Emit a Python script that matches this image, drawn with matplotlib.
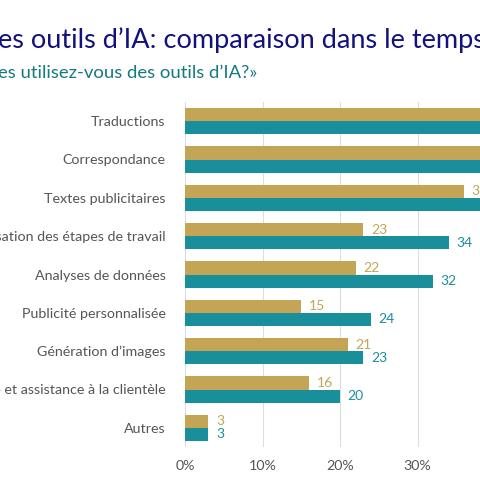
import matplotlib.pyplot as plt
import numpy as np

plt.rcParams["font.family"] = ["Lato", "DejaVu Sans"]

categories = [
    "Traductions",
    "Correspondance",
    "Textes publicitaires",
    "Organisation des étapes de travail",
    "Analyses de données",
    "Publicité personnalisée",
    "Génération d’images",
    "Service et assistance à la clientèle",
    "Autres",
]
# first (gold) and second (teal) survey wave, in %
wave1 = [48, 45, 36, 23, 22, 15, 21, 16, 3]
wave2 = [55, 52, 38, 34, 32, 24, 23, 20, 3]
xticks = [0, 10, 20, 30, 40, 50, 60]

GOLD = "#c4a556"
TEAL = "#1a8f9c"
GREY = "#555555"

fig = plt.figure(figsize=(4.8, 4.8), dpi=100)
# axes deliberately runs past the right edge, like the cropped original
ax = fig.add_axes([185 / 480, 1 - 447 / 480, 60 * 7.75 / 480, (447 - 102) / 480])

y = np.arange(len(categories))
h = 0.34
ax.barh(y - h / 2, wave1, height=h, color=GOLD)
ax.barh(y + h / 2, wave2, height=h, color=TEAL)
for yi, a, b in zip(y, wave1, wave2):
    ax.text(a + 1.0, yi - h / 2, str(a), color=GOLD, fontsize=10, va="center")
    ax.text(b + 1.0, yi + h / 2, str(b), color=TEAL, fontsize=10, va="center")

ax.set_ylim(len(categories) - 0.5, -0.5)
ax.set_xlim(0, 60)
ax.set_yticks(y)
ax.set_yticklabels(categories, color=GREY, fontsize=10.3)
ax.set_xticks(xticks)
ax.set_xticklabels([f"{t}%" for t in xticks], color=GREY, fontsize=10.3)
ax.tick_params(length=0, pad=9)
ax.tick_params(axis="y", pad=14)
ax.grid(axis="x", color="#dddddd", linewidth=0.8)
ax.set_axisbelow(True)
for s in ax.spines.values():
    s.set_visible(False)

fig.text(-0.004, 1 - 48 / 480, "es outils d’IA: comparaison dans le temps",
         color="#12127f", fontsize=19.5, va="baseline")
fig.text(-0.004, 1 - 78 / 480, "es utilisez-vous des outils d’IA?»",
         color="#137a80", fontsize=13.3, va="baseline")

fig.savefig("out.png", dpi=100)
